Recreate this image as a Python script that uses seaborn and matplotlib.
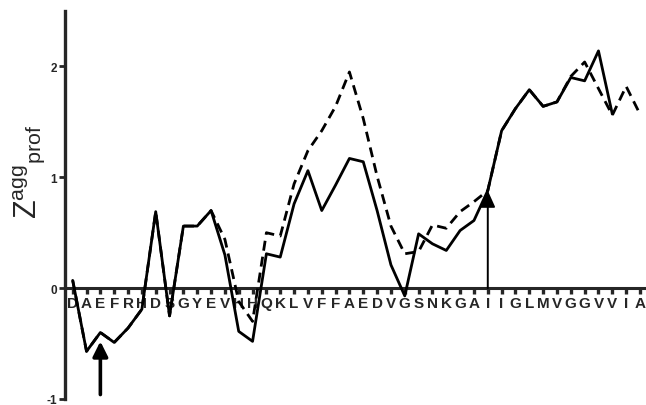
import numpy as np
import pandas as pd
import matplotlib
matplotlib.use("Agg")
import matplotlib.pyplot as plt
import seaborn as sns

# ---- data ----
residues = list("DAEFRHDSGYEVHHQKLVFFAEDVGSNKGAIIGLMVGGVVIA")
solid_vals = [0.07, -0.57, -0.40, -0.49, -0.36, -0.19, 0.69, -0.25, 0.56, 0.56,
              0.70, 0.30, -0.39, -0.48, 0.31, 0.28, 0.76, 1.06, 0.70, 0.93,
              1.17, 1.14, 0.70, 0.21, -0.07, 0.49, 0.40, 0.34, 0.52, 0.61,
              0.88, 1.42, 1.62, 1.79, 1.64, 1.68, 1.90, 1.87, 2.14, 1.57]
dashed_vals = [0.07, -0.57, -0.40, -0.49, -0.36, -0.19, 0.69, -0.25, 0.56, 0.56,
               0.70, 0.44, -0.12, -0.30, 0.50, 0.47, 0.94, 1.24, 1.42, 1.64,
               1.95, 1.53, 1.01, 0.56, 0.31, 0.33, 0.57, 0.54, 0.69, 0.78,
               0.88, 1.42, 1.62, 1.79, 1.64, 1.68, 1.91, 2.04, 1.80, 1.56,
               1.82, 1.57]
yticks = [-1, 0, 1, 2]
# arrows: (residue index, tail value, tip value)
arrow_small = (2, -0.96, -0.48)
arrow_large = (30, 0.0, 0.88)

sns.set_style("ticks")
plt.rcParams['font.family'] = ['Liberation Sans', 'DejaVu Sans']
plt.rcParams['mathtext.fontset'] = 'custom'
plt.rcParams['mathtext.rm'] = 'Liberation Sans'
plt.rcParams['mathtext.it'] = 'Liberation Sans'

fig = plt.figure(figsize=(6.46, 4.06), dpi=100)
ax = fig.add_axes([65/646, 6/406, 579/646, 388/406])

df_s = pd.DataFrame({"x": np.arange(len(solid_vals)), "y": solid_vals})
df_d = pd.DataFrame({"x": np.arange(len(dashed_vals)), "y": dashed_vals})

sns.lineplot(data=df_d, x="x", y="y", ax=ax, color="black", lw=2.0,
             linestyle=(0, (3.6, 2.2)), zorder=3)
sns.lineplot(data=df_s, x="x", y="y", ax=ax, color="black", lw=2.0, zorder=4)

ax.set_xlim(-0.556, 41.29)
ax.set_ylim(-1, 2.5)

for sp in ["top", "right"]:
    ax.spines[sp].set_visible(False)
ax.spines["bottom"].set_position(("data", 0))
ax.spines["bottom"].set_linewidth(2.2)
ax.spines["left"].set_linewidth(2.4)
ax.spines["bottom"].set_zorder(2)
ax.spines["left"].set_zorder(2)

ax.set_xticks(np.arange(len(residues)))
ax.set_xticklabels(residues, fontsize=11, fontweight="bold")
ax.tick_params(axis="x", direction="out", length=4, width=2.4, pad=1.5)
ax.set_yticks(yticks)
ax.set_yticklabels([str(v) for v in yticks], fontsize=8.5, fontweight="bold")
ax.tick_params(axis="y", direction="out", length=4, width=2, pad=1.5)
ax.set_xlabel("")
ax.set_ylabel("")

fig.text(29/646, 1 - 172/406, r"$\mathrm{Z^{agg}{}_{prof}}$", rotation=90,
         ha="center", va="center", fontsize=22)

ax.annotate("", xy=(arrow_small[0], arrow_small[2]), xytext=(arrow_small[0], arrow_small[1]),
            arrowprops=dict(arrowstyle="-|>,head_length=0.9,head_width=0.45", lw=2.6,
                            color="black", shrinkA=0, shrinkB=0), zorder=5)
ax.annotate("", xy=(arrow_large[0], arrow_large[2]), xytext=(arrow_large[0], arrow_large[1]),
            arrowprops=dict(arrowstyle="-|>,head_length=1.0,head_width=0.45", lw=1.4,
                            color="black", shrinkA=0, shrinkB=0), zorder=5)

fig.savefig("out.png", dpi=100)
